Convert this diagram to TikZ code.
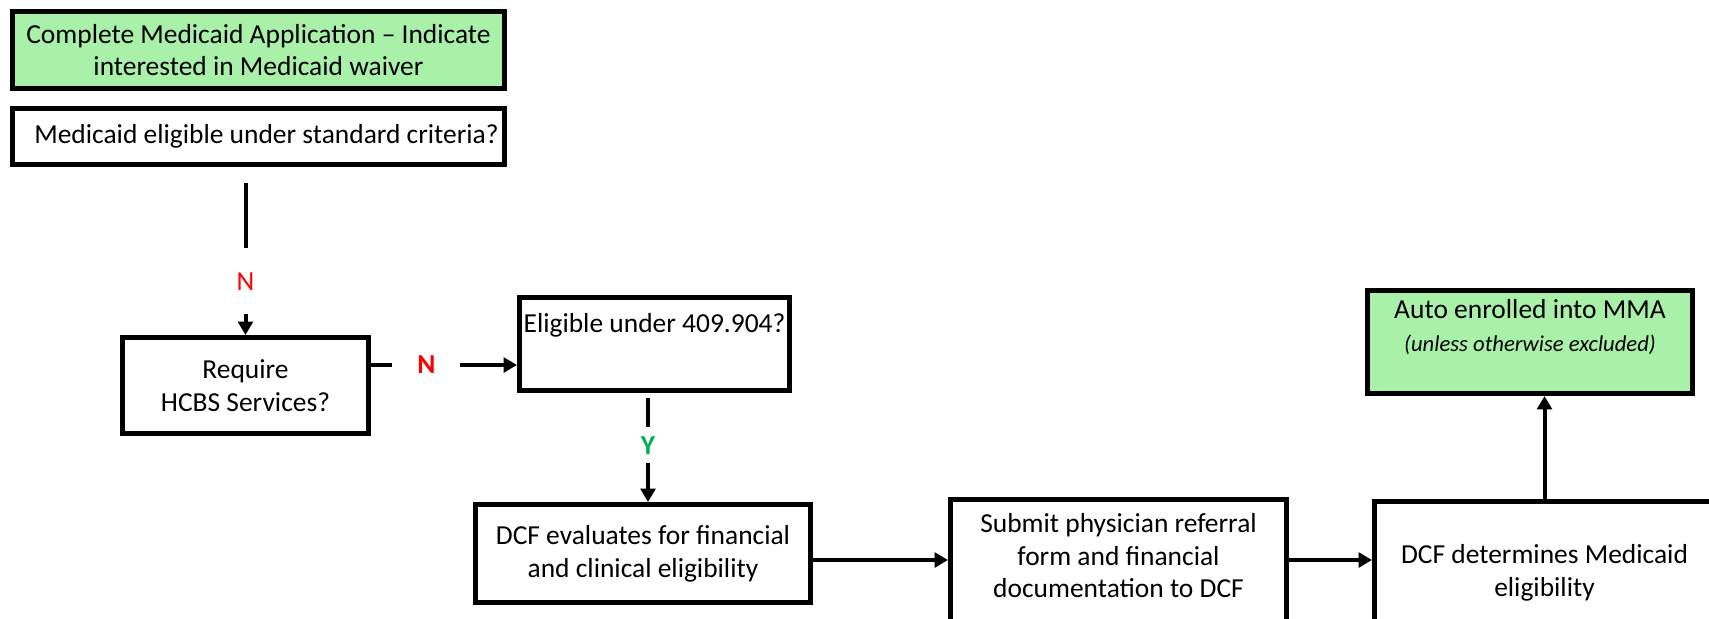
\documentclass[tikz,border=0pt]{standalone}
\usepackage{fontspec}
\setmainfont{Carlito}
\usetikzlibrary{arrows.meta}
\definecolor{boxgreen}{RGB}{169,241,169}
\definecolor{nored}{RGB}{255,0,0}
\definecolor{yesgreen}{RGB}{0,176,80}

\begin{document}
\begin{tikzpicture}
[x=0.75pt,y=-0.75pt,
 box/.style={draw,line width=3.75pt,fill=white,align=center,inner sep=0pt},
 greenbox/.style={box,fill=boxgreen},
 conn/.style={line width=3pt,-{Triangle[length=10pt,width=11pt]}},
 lbl/.style={fill=white,inner sep=0pt}]
\fontsize{20.6}{24.6}\selectfont
\clip (0,0) rectangle (1709,618);
% left column
\node[greenbox,minimum width=369pt,minimum height=57.75pt] (apply) at (258.5,50)
  {Complete Medicaid Application -- Indicate\\interested in Medicaid waiver};
\node[box,minimum width=369pt,minimum height=42pt] (std) at (258.5,136.5)
  {\hspace*{12pt}Medicaid eligible under standard criteria?};
\node[box,minimum width=184.5pt,minimum height=72pt] (hcbs) at (245.5,385.5)
  {Require\\HCBS Services?};
% waiver path
\node[box,minimum width=202.5pt,minimum height=69.75pt] (elig) at (654.5,344)
  {Eligible under 409.904?\\[7pt] \mbox{}};
\node[box,minimum width=251.25pt,minimum height=73.5pt] (eval) at (643,553.5)
  {DCF evaluates for financial\\and clinical eligibility};
\node[box,minimum width=252pt,minimum height=108.75pt] (submit) at (1118.5,572)
  {Submit physician referral\\form and financial\\documentation to DCF\\ \mbox{}};
\node[box,minimum width=255pt,minimum height=106.5pt] (determ) at (1544.5,572.5)
  {DCF determines Medicaid\\eligibility};
\node[greenbox,minimum width=243.75pt,minimum height=77.25pt] (auto) at (1530,342)
  {Auto enrolled into MMA\\{\fontsize{17}{20}\selectfont\itshape (unless otherwise excluded)}\\ \mbox{}};

\draw[conn,shorten <=12pt] (std.south -| hcbs.north) -- node[lbl,pos=0.68,minimum height=49.5pt,text=nored]{N} (hcbs.north);
\draw[conn] (hcbs.east |- 0,365) -- node[lbl,pos=0.38,minimum width=51pt,text=nored,font=\bfseries]{N} (elig.west |- 0,365);
\draw[conn,shorten <=4pt] (elig.south -| 648,0) -- node[lbl,pos=0.48,minimum height=27pt,text=yesgreen,font=\bfseries]{Y} (eval.north -| 648,0);
\draw[conn] (eval.east |- 0,560) -- (submit.west |- 0,560);
\draw[conn] (submit.east |- 0,560) -- (determ.west |- 0,560);
\draw[conn] (determ.north) -- (auto.south -| determ.north);
\end{tikzpicture}
\end{document}
